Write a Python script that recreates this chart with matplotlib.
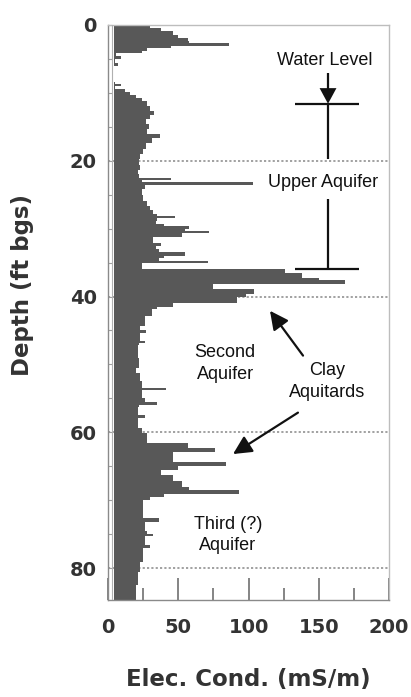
import matplotlib
matplotlib.use("Agg")
import matplotlib.pyplot as plt
from matplotlib.patches import FancyArrowPatch, Polygon

# ---- data: step profile (top of each interval in ft, conductivity mS/m) ----
depth_top = [0.0, 0.4, 0.9, 1.4, 1.9, 2.4, 2.6, 3.1, 3.4, 3.8, 4.1, 4.6, 5.0, 5.6, 6.0,
             8.4, 8.7, 9.0, 9.4, 9.8, 10.3, 10.8, 11.2, 12.0, 12.6, 13.3, 13.8, 14.6,
             15.3, 16.0, 16.6, 17.4, 18.2, 19.0, 19.8, 20.6, 21.4, 22.0, 22.5, 22.9,
             23.2, 23.6, 24.2, 25.0, 25.9, 26.6, 27.3, 27.8, 28.1, 28.5, 28.8, 29.3,
             29.6, 30.0, 30.3, 30.7, 31.3, 32.1, 32.5, 33.0, 33.5, 34.0, 34.3, 34.7,
             35.1, 35.9, 36.5, 37.2, 37.6, 38.1, 38.9, 39.6, 40.1, 40.9, 41.5, 41.9,
             42.8, 44.3, 44.9, 45.3, 46.5, 46.9, 47.2, 49.0, 50.5, 51.2, 52.5, 53.4,
             53.8, 55.0, 55.6, 56.0, 56.3, 57.5, 57.9, 59.3, 60.1, 61.6, 62.3, 62.9,
             64.4, 64.9, 65.6, 66.3, 67.1, 68.1, 68.5, 69.1, 69.5, 69.9, 72.6, 73.2,
             74.5, 75.0, 75.3, 76.6, 77.0, 79.1, 80.6, 82.5, 84.7]
cond = [30, 38, 46, 50, 57, 58, 86, 45, 28, 24, 6, 9, 5, 7, 4,
        5, 9, 5, 12, 16, 20, 24, 28, 30, 33, 30, 27, 29,
        28, 37, 31, 27, 25, 23, 22, 23, 21, 22, 45, 24,
        103, 26, 24, 25, 28, 30, 32, 35, 48, 35, 34, 40,
        58, 55, 72, 53, 32, 38, 34, 36, 55, 40, 36, 71,
        24, 126, 138, 150, 169, 75, 104, 98, 92, 46, 35, 31,
        26, 23, 27, 23, 26, 22, 21, 22, 20, 23, 24, 41,
        24, 26, 35, 22, 21, 26, 21, 24, 28, 57, 76, 46,
        84, 50, 38, 46, 53, 58, 93, 40, 30, 25, 36, 26,
        28, 32, 26, 30, 25, 23, 21, 20, 20]

layer_bounds = [20, 40, 60, 80]
x_ticks = [0, 50, 100, 150, 200]
x_minor = [25, 75, 125, 175]
y_ticks = [0, 20, 40, 60, 80]

plt.rcParams['font.family'] = ['Liberation Sans', 'DejaVu Sans']
bold_font = ['DejaVu Sans']

fig = plt.figure(figsize=(4.11, 6.97), dpi=100)
ax = fig.add_axes([108/411, 1-600/697, 281/411, 575/697])
ax.set_xlim(0, 200)
ax.set_ylim(84.7, 0)

# layer boundaries (dotted)
for d in layer_bounds:
    ax.axhline(d, color='#9a9a9a', lw=1.3, ls=(0, (1.2, 1.2)), zorder=1)

ax.fill_betweenx(depth_top, 4.5, cond, step='post', color='#585858', lw=0, zorder=2)
ax.axvline(2.6, color='#b0b0b0', lw=0.8, zorder=3)

# spines
for s in ['top', 'right']:
    ax.spines[s].set_color('#bdbdbd')
ax.spines['bottom'].set_color('#8a8a8a')
ax.spines['left'].set_color('#8a8a8a')
for s in ax.spines.values():
    s.set_linewidth(1.0)

ax.set_xticks(x_ticks)
ax.set_xticks(x_minor, minor=True)
ax.tick_params(axis='x', which='major', direction='in', length=16, width=1.2,
               color='#707070', pad=13, labelsize=14, labelcolor='#333333')
ax.tick_params(axis='x', which='minor', direction='in', length=8.5, width=1.2,
               color='#707070')
ax.set_yticks(y_ticks)
ax.set_yticks([d for d in range(5, 85, 5) if d not in y_ticks], minor=True)
ax.tick_params(axis='y', which='both', direction='in', length=3, width=0.8,
               color='#a0a0a0', pad=8, labelsize=14, labelcolor='#333333')
for lab in ax.get_xticklabels() + ax.get_yticklabels():
    lab.set_fontweight('bold')
    lab.set_family(bold_font)

ax.set_xlabel('Elec. Cond. (mS/m)', fontsize=16.5, fontweight='bold', color='#333333',
              family=bold_font)
ax.xaxis.set_label_coords(0.50, -0.139)
ax.xaxis.label.set_va('center')
ax.set_ylabel('Depth (ft bgs)', fontsize=16.5, fontweight='bold', color='#333333',
              family=bold_font)
ax.yaxis.set_label_coords(-0.306, 0.548)
ax.yaxis.label.set_va('center')

# annotations
tk = dict(family=['Liberation Sans', 'DejaVu Sans'], fontsize=13, color='#111111',
          ha='center', va='center', linespacing=1.35)
ax.text(154.4, 5.3, 'Water Level', **tk)
ax.text(153, 23.2, 'Upper Aquifer', **tk)
ax.text(83.3, 49.9, 'Second\nAquifer', **tk)
ax.text(155.9, 52.5, 'Clay\nAquitards', **tk)
ax.text(85.4, 75.1, 'Third (?)\nAquifer', **tk)

lk = dict(color='#111111', lw=1.6, solid_capstyle='butt')
ax.plot([156.6, 156.6], [7.1, 11.0], **lk)
ax.add_patch(Polygon([[150.6, 9.3], [162.6, 9.3], [156.6, 11.6]], closed=True,
                     color='#111111', lw=0))
ax.plot([133, 178.6], [11.6, 11.6], **lk)
ax.plot([156.6, 156.6], [11.6, 19.7], **lk)
ax.plot([156.6, 156.6], [25.6, 36.0], **lk)
ax.plot([133, 178.6], [36.0, 36.0], **lk)

for (x0, y0, x1, y1) in [(138.8, 48.7, 115.3, 42.1), (135.2, 57.1, 89.0, 63.2)]:
    ax.add_patch(FancyArrowPatch((x0, y0), (x1, y1),
                                 arrowstyle='-|>,head_length=0.8,head_width=0.4',
                                 mutation_scale=14, color='#111111', lw=1.6,
                                 shrinkA=0, shrinkB=0))

fig.savefig('out.png', dpi=100)
